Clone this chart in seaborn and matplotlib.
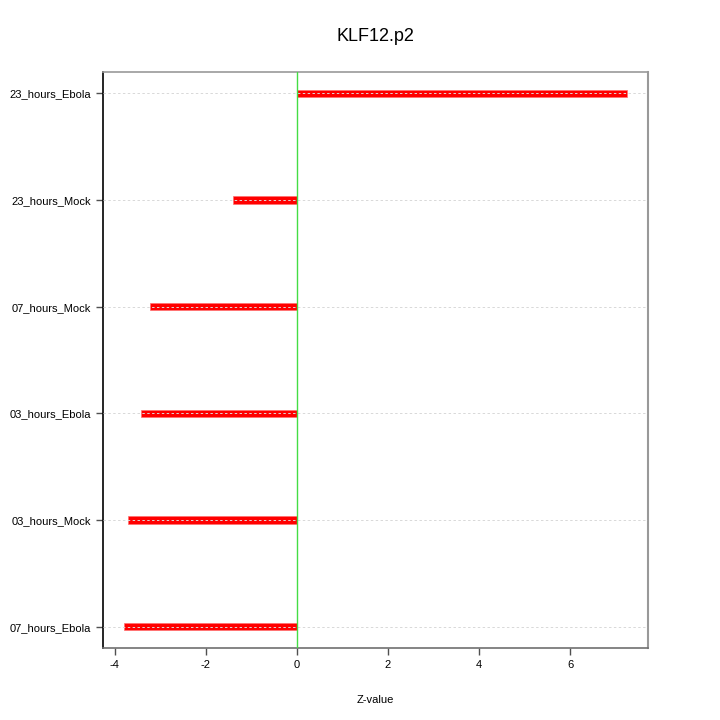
import matplotlib
matplotlib.use("Agg")
import matplotlib.pyplot as plt
import seaborn as sns
import pandas as pd

categories = ["23_hours_Ebola", "23_hours_Mock", "07_hours_Mock",
              "03_hours_Ebola", "03_hours_Mock", "07_hours_Ebola"]
zvalues = [7.25, -1.41, -3.23, -3.43, -3.71, -3.80]
xticks = [-4, -2, 0, 2, 4, 6]

sns.set_style("white")
plt.rcParams['font.family'] = ['Liberation Sans', 'DejaVu Sans']
plt.rcParams['text.color'] = 'black'
plt.rcParams['axes.labelcolor'] = 'black'

df = pd.DataFrame({"condition": categories, "z": zvalues})

fig = plt.figure(figsize=(7.2, 7.2), dpi=100)
ax = fig.add_axes([0.143, 0.1, 0.757, 0.8])

sns.barplot(data=df, x="z", y="condition", orient="h", color="#ff0000",
            width=0.07, edgecolor="#ff7070", linewidth=0.5, ax=ax,
            saturation=1, zorder=2)

for i in range(len(categories)):
    ax.axhline(i, color="#d8d8d8", linestyle=(0, (2.5, 2.5)), linewidth=0.7, zorder=3)
ax.axvline(0, color="#44dd44", linewidth=1.0, zorder=4)

ax.set_xlim(-4.26, 7.71)
ax.set_ylim(len(categories) - 1 + 0.2, -0.2)
ax.set_xticks(xticks)
ax.set_xticklabels([str(t) for t in xticks])
ax.tick_params(axis="both", labelsize=8, length=5, width=1, colors="#505050",
               labelcolor="black", left=True, bottom=True)
ax.set_xlabel("Z-value", fontsize=8, labelpad=18, color="black")
ax.set_ylabel("")
ax.set_title("KLF12.p2", fontsize=13, pad=22, color="black")

ax.spines["left"].set_color("black")
ax.spines["left"].set_linewidth(1.2)
for s in ["top", "right", "bottom"]:
    ax.spines[s].set_color("#999999")
    ax.spines[s].set_linewidth(1.2)
ax.spines["right"].set_linewidth(1.5)
ax.spines["bottom"].set_color("#707070")

fig.savefig("out.png", dpi=100)
